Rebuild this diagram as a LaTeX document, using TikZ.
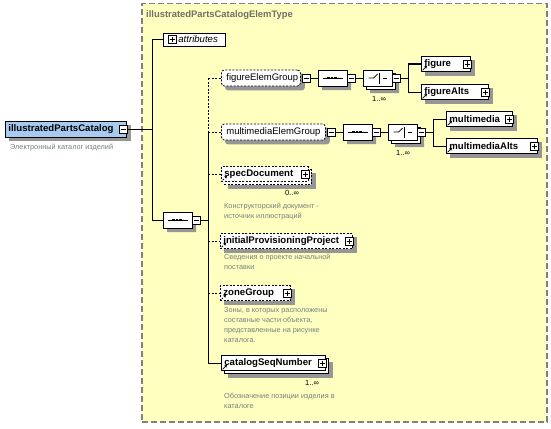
\documentclass[tikz,border=0pt]{standalone}
\usepackage{fontspec}
\setmainfont{Liberation Sans}
\usetikzlibrary{shapes.misc,arrows.meta}
\definecolor{bgyellow}{RGB}{255,255,192}
\definecolor{rootblue}{RGB}{166,202,240}
\definecolor{shadowgray}{RGB}{150,150,150}
\definecolor{capgray}{RGB}{118,128,124}
\definecolor{framegray}{RGB}{128,128,128}
\definecolor{titlegray}{RGB}{112,112,100}
\pgfdeclarelayer{bg}
\pgfdeclarelayer{shad}
\pgfsetlayers{bg,shad,main}
\tikzset{
  conn/.style={line width=1pt, draw=black},
  opt/.style={dash pattern=on 2pt off 1.5pt},
  elem/.style={draw=black, fill=white, line width=0.8pt, anchor=west, minimum height=15pt,
    inner xsep=3pt, inner ysep=0pt, align=left, font=\fontsize{9.6}{11}\selectfont\bfseries},
  refarrow/.style={path picture={\draw[line width=0.8pt,-{Stealth[length=3pt,width=3pt]}]
      ([xshift=1.2pt,yshift=1.2pt]path picture bounding box.south west) -- ++(4.5pt,4.5pt);}},
  grp/.style={draw=black, fill=white, rounded corners=3pt, line width=0.8pt, anchor=west,
    minimum height=16pt, inner xsep=5pt, inner ysep=0pt, align=left,
    font=\fontsize{9.5}{11}\selectfont, opt},
  comp/.style={chamfered rectangle, chamfered rectangle xsep=4pt, chamfered rectangle ysep=4pt,
    draw=black, fill=white, line width=0.8pt, minimum height=16pt, minimum width=29pt, inner sep=0pt},
  seqicon/.style={path picture={
      \draw[line width=0.7pt] ([xshift=-10pt]path picture bounding box.center) -- ([xshift=10pt]path picture bounding box.center);
      \draw[line width=2pt, dash pattern=on 2.4pt off 1.2pt] ([xshift=-5.4pt]path picture bounding box.center) -- ([xshift=5.4pt]path picture bounding box.center);}},
  choiceicon/.style={path picture={
      \draw[line width=0.7pt] ([xshift=-9pt]path picture bounding box.center) -- ([xshift=-4pt]path picture bounding box.center) -- ([xshift=0pt,yshift=4pt]path picture bounding box.center);
      \draw[line width=0.7pt] ([xshift=2pt,yshift=5.5pt]path picture bounding box.center) -- ([xshift=2pt,yshift=-5.5pt]path picture bounding box.center);
      \fill ([xshift=3pt,yshift=3.5pt]path picture bounding box.center) rectangle ([xshift=5.5pt,yshift=5.5pt]path picture bounding box.center);
      \fill ([xshift=3pt,yshift=-1pt]path picture bounding box.center) rectangle ([xshift=5.5pt,yshift=1pt]path picture bounding box.center);
      \fill ([xshift=3pt,yshift=-5.5pt]path picture bounding box.center) rectangle ([xshift=5.5pt,yshift=-3.5pt]path picture bounding box.center);
      \draw[line width=0.7pt] ([xshift=5.5pt]path picture bounding box.center) -- ([xshift=9pt]path picture bounding box.center);}},
  pm/.style={draw=black, fill=white, minimum size=8pt, inner sep=0pt, line width=0.6pt},
  pmplus/.style={pm, path picture={
      \draw[line width=0.7pt] ([xshift=-2.5pt]path picture bounding box.center) -- ([xshift=2.5pt]path picture bounding box.center);
      \draw[line width=0.7pt] ([yshift=-2.5pt]path picture bounding box.center) -- ([yshift=2.5pt]path picture bounding box.center);}},
  pmminus/.style={pm, path picture={
      \draw[line width=0.7pt] ([xshift=-2.5pt]path picture bounding box.center) -- ([xshift=2.5pt]path picture bounding box.center);}},
  captxt/.style={anchor=north west, inner sep=0pt, align=left, text=capgray, font=\fontsize{7.3}{10}\selectfont},
  occtxt/.style={inner sep=0pt, font=\fontsize{7.5}{9}\selectfont},
  shadowbox/.style={fill=shadowgray, draw=none},
}
\begin{document}
\begin{tikzpicture}[x=1pt,y=-1pt]
\useasboundingbox (0,0) rectangle (551,428);
% background type box
\begin{pgfonlayer}{bg}
\node[draw=framegray, fill=bgyellow, line width=1.5pt, dash pattern=on 6pt off 3pt,
  anchor=north west, minimum width=405pt, minimum height=418pt, inner sep=0pt] (typebox) at (141,3) {};
\end{pgfonlayer}
\node[anchor=west, inner sep=0pt, text=titlegray, font=\fontsize{9.4}{12}\selectfont\bfseries] (title) at (146,15) {illustratedPartsCatalogElemType};

% root
\node[elem, fill=rootblue, minimum height=16pt, text width=115pt] (root) at (5,129) {illustratedPartsCatalog};
\node[pmminus] (root-m) at (123,129) {};
\node[captxt] (rootcap) at (10,144) {Электронный каталог изделий};

% attributes
\node[elem, minimum height=13pt, text width=56pt, font=\fontsize{9.6}{11}\selectfont\itshape] (attr) at (163,39.5) {\hspace*{12pt}attributes};
\node[pmplus] (attr-p) at (172,39.5) {};

% main sequence
\node[comp, seqicon] (seq0) at (177.5,220) {};
\node[pmminus] (seq0-m) at (196,220) {};

% row 1
\node[grp, text width=69pt] (feg) at (221,78) {figureElemGroup};
\node[pmminus] (feg-m) at (306,78) {};
\node[comp, seqicon] (seq1) at (332.5,78) {};
\node[pmminus] (seq1-m) at (351,78) {};
\node[comp] (ch1b) at (380.5,81) {};
\node[comp, choiceicon] (ch1) at (377.5,78) {};
\node[pmminus] (ch1-m) at (396,78) {};
\node[occtxt] (ch1-o) at (379,99) {1..∞};
\node[elem, refarrow, text width=43pt] (fig) at (421,64) {figure};
\node[pmplus] (fig-p) at (467,64) {};
\node[elem, refarrow, text width=61pt] (figa) at (421,92) {figureAlts};
\node[pmplus] (figa-p) at (485,92) {};

% row 2
\node[grp, text width=94pt] (meg) at (221,132) {multimediaElemGroup};
\node[pmminus] (meg-m) at (331,132) {};
\node[comp, seqicon] (seq2) at (357.5,132) {};
\node[pmminus] (seq2-m) at (376,132) {};
\node[comp] (ch2b) at (405.5,135) {};
\node[comp, choiceicon] (ch2) at (402.5,132) {};
\node[pmminus] (ch2-m) at (421,132) {};
\node[occtxt] (ch2-o) at (403,153) {1..∞};
\node[elem, refarrow, text width=60pt] (mm) at (446,119) {multimedia};
\node[pmplus] (mm-p) at (509,119) {};
\node[elem, refarrow, text width=85pt] (mma) at (446,146) {multimediaAlts};
\node[pmplus] (mma-p) at (534,146) {};

% sequence children
\node[elem, opt, text width=81pt] (specb) at (224,177) {\phantom{specDocument}};
\node[elem, opt, refarrow, text width=81pt] (spec) at (221,174) {specDocument};
\node[pmplus] (spec-p) at (305,174) {};
\node[occtxt] (spec-o) at (292,193) {0..∞};
\node[captxt] (speccap) at (224,202.5) {Конструкторский документ -\\источник иллюстраций};

\node[elem, opt, refarrow, text width=126pt] (ipp) at (220,241) {initialProvisioningProject};
\node[pmplus] (ipp-p) at (349,241) {};
\node[captxt] (ippcap) at (224,253.5) {Сведения о проекте начальной\\поставки};

\node[elem, opt, refarrow, text width=64pt] (zone) at (220,293) {zoneGroup};
\node[pmplus] (zone-p) at (287,293) {};
\node[captxt] (zonecap) at (224,307) {Зоны, в которых расположены\\составные части объекта,\\представленные на рисунке\\каталога.};

\node[elem, text width=98pt] (csnb) at (224,366) {\phantom{catalogSeqNumber}};
\node[elem, refarrow, text width=98pt] (csn) at (221,363) {catalogSeqNumber};
\node[pmplus] (csn-p) at (322,363) {};
\node[occtxt] (csn-o) at (312,383) {1..∞};
\node[captxt] (csncap) at (224,392.5) {Обозначение позиции изделия в\\каталоге};

% shadows
\begin{pgfonlayer}{shad}
\fill[shadowbox] ([shift={(4pt,-4pt)}]root.south west) rectangle ([shift={(4pt,-4pt)}]root.north east);
\fill[shadowbox] ([shift={(4pt,-4pt)}]fig.south west) rectangle ([shift={(4pt,-4pt)}]fig.north east);
\fill[shadowbox] ([shift={(4pt,-4pt)}]figa.south west) rectangle ([shift={(4pt,-4pt)}]figa.north east);
\fill[shadowbox] ([shift={(4pt,-4pt)}]mm.south west) rectangle ([shift={(4pt,-4pt)}]mm.north east);
\fill[shadowbox] ([shift={(4pt,-4pt)}]mma.south west) rectangle ([shift={(4pt,-4pt)}]mma.north east);
\fill[shadowbox] ([shift={(4pt,-4pt)}]specb.south west) rectangle ([shift={(4pt,-4pt)}]specb.north east);
\fill[shadowbox] ([shift={(4pt,-4pt)}]ipp.south west) rectangle ([shift={(4pt,-4pt)}]ipp.north east);
\fill[shadowbox] ([shift={(4pt,-4pt)}]zone.south west) rectangle ([shift={(4pt,-4pt)}]zone.north east);
\fill[shadowbox] ([shift={(4pt,-4pt)}]csnb.south west) rectangle ([shift={(4pt,-4pt)}]csnb.north east);
\fill[shadowbox, rounded corners=3pt] ([shift={(4pt,-4pt)}]feg.south west) rectangle ([shift={(4pt,-4pt)}]feg.north east);
\fill[shadowbox, rounded corners=3pt] ([shift={(4pt,-4pt)}]meg.south west) rectangle ([shift={(4pt,-4pt)}]meg.north east);
\node[comp, shadowbox] (seq0-s) at ([shift={(4pt,-4pt)}]seq0.center) {};
\node[comp, shadowbox] (seq1-s) at ([shift={(4pt,-4pt)}]seq1.center) {};
\node[comp, shadowbox] (seq2-s) at ([shift={(4pt,-4pt)}]seq2.center) {};
\node[comp, shadowbox] (ch1-s) at ([shift={(4pt,-4pt)}]ch1b.center) {};
\node[comp, shadowbox] (ch2-s) at ([shift={(4pt,-4pt)}]ch2b.center) {};
\end{pgfonlayer}

% connectors
\coordinate (j0) at (152,129);
\coordinate (j1) at (208,220);
\coordinate (j2) at (408,78);
\coordinate (j3) at (433,132);
\draw[conn] (root-m.east) -- (j0);
\draw[conn] (j0 |- attr.west) -- (j0 |- seq0.west);
\draw[conn] (j0 |- attr.west) -- (attr.west);
\draw[conn] (j0 |- seq0.west) -- (seq0.west);
\draw[conn] (seq0-m.east) -- (j1);
\draw[conn, opt] (j1 |- feg.west) -- (j1 |- meg.west);
\draw[conn] (j1 |- meg.west) -- (j1 |- csn.west);
\draw[conn, opt] (j1 |- feg.west) -- (feg.west);
\draw[conn, opt] (j1 |- meg.west) -- (meg.west);
\draw[conn, opt] (j1 |- spec.west) -- (spec.west);
\draw[conn, opt] (j1 |- ipp.west) -- (ipp.west);
\draw[conn, opt] (j1 |- zone.west) -- (zone.west);
\draw[conn] (j1 |- csn.west) -- (csn.west);
\draw[conn] (feg-m.east) -- (seq1.west);
\draw[conn] (seq1-m.east) -- (ch1.west);
\draw[conn] (ch1-m.east) -- (j2);
\draw[conn] (j2 |- fig.west) -- (j2 |- figa.west);
\draw[conn] (j2 |- fig.west) -- (fig.west);
\draw[conn] (j2 |- figa.west) -- (figa.west);
\draw[conn] (meg-m.east) -- (seq2.west);
\draw[conn] (seq2-m.east) -- (ch2.west);
\draw[conn] (ch2-m.east) -- (j3);
\draw[conn] (j3 |- mm.west) -- (j3 |- mma.west);
\draw[conn] (j3 |- mm.west) -- (mm.west);
\draw[conn] (j3 |- mma.west) -- (mma.west);
\end{tikzpicture}
\end{document}
